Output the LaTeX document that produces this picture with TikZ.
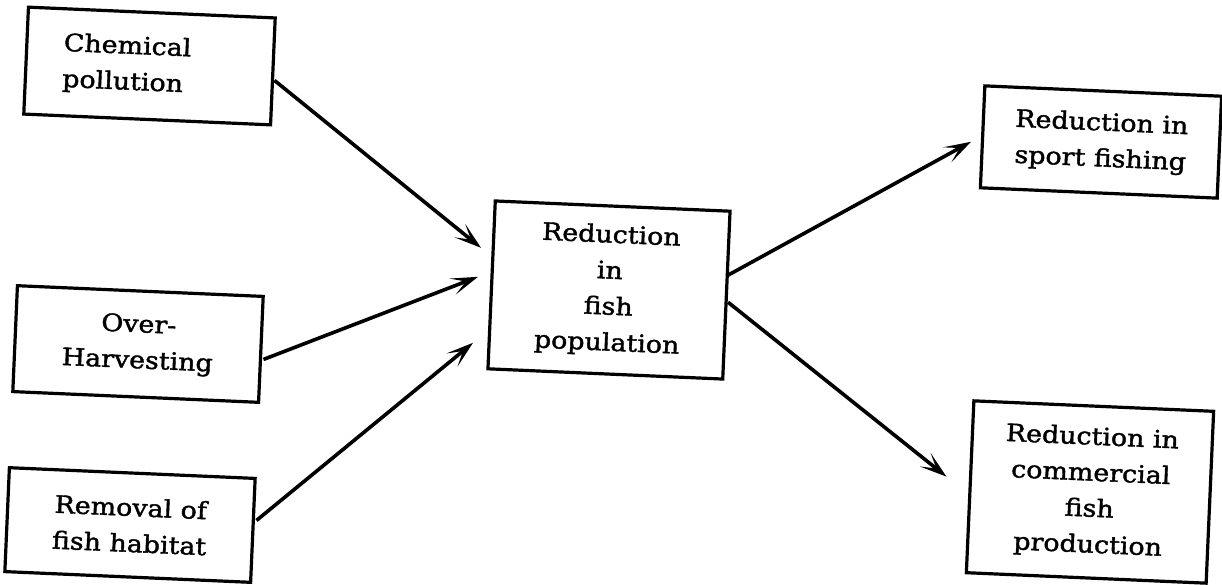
\documentclass[tikz,border=0pt]{standalone}
\usepackage{fontspec}
\setmainfont{DejaVu Serif}[FakeStretch=1.12,FakeBold=1.6]
\usetikzlibrary{arrows.meta}
\begin{document}
\begin{tikzpicture}[x=1pt,y=-1pt,
  box/.style={draw, line width=3.2pt, rotate=-2.5, inner sep=0pt, align=center,
    font=\fontsize{24}{36}\selectfont},
  arr/.style={line width=3.6pt, -{Stealth[length=27pt,width=17pt,inset=14pt]}}]
\useasboundingbox (0,0) rectangle (1222,584);
\node[box, minimum width=247pt, minimum height=107pt, text width=173pt, inner xsep=37pt, align=left] (chem) at (149.5,66) {Chemical\\pollution};
\node[box, minimum width=246pt, minimum height=106pt] (over) at (138,344) {Over-\\Harvesting};
\node[box, minimum width=246pt, minimum height=104pt] (remov) at (130,525) {Removal of\\fish habitat};
\node[box, minimum width=235pt, minimum height=168pt] (center) at (609,290) {Reduction\\in\\fish\\population};
\node[box, minimum width=237pt, minimum height=102pt] (sport) at (1101,142) {Reduction in\\sport fishing};
\node[box, minimum width=240pt, minimum height=172pt] (comm) at (1090,492) {Reduction in\\commercial\\fish\\production};
\draw[arr] ([shift={(0,9)}]chem.east) -- ([shift={(-9,-37)}]center.west);
\draw[arr] ([shift={(1,10)}]over.east) -- ([shift={(-12,-8)}]center.west);
\draw[arr] ([shift={(2,-10)}]remov.east) -- ([shift={(-17,58)}]center.west);
\draw[arr] ([shift={(0,-20)}]center.east) -- ([shift={(-10,5)}]sport.west);
\draw[arr] ([shift={(0,7)}]center.east) -- ([shift={(-22,-10)}]comm.west);
\end{tikzpicture}
\end{document}
